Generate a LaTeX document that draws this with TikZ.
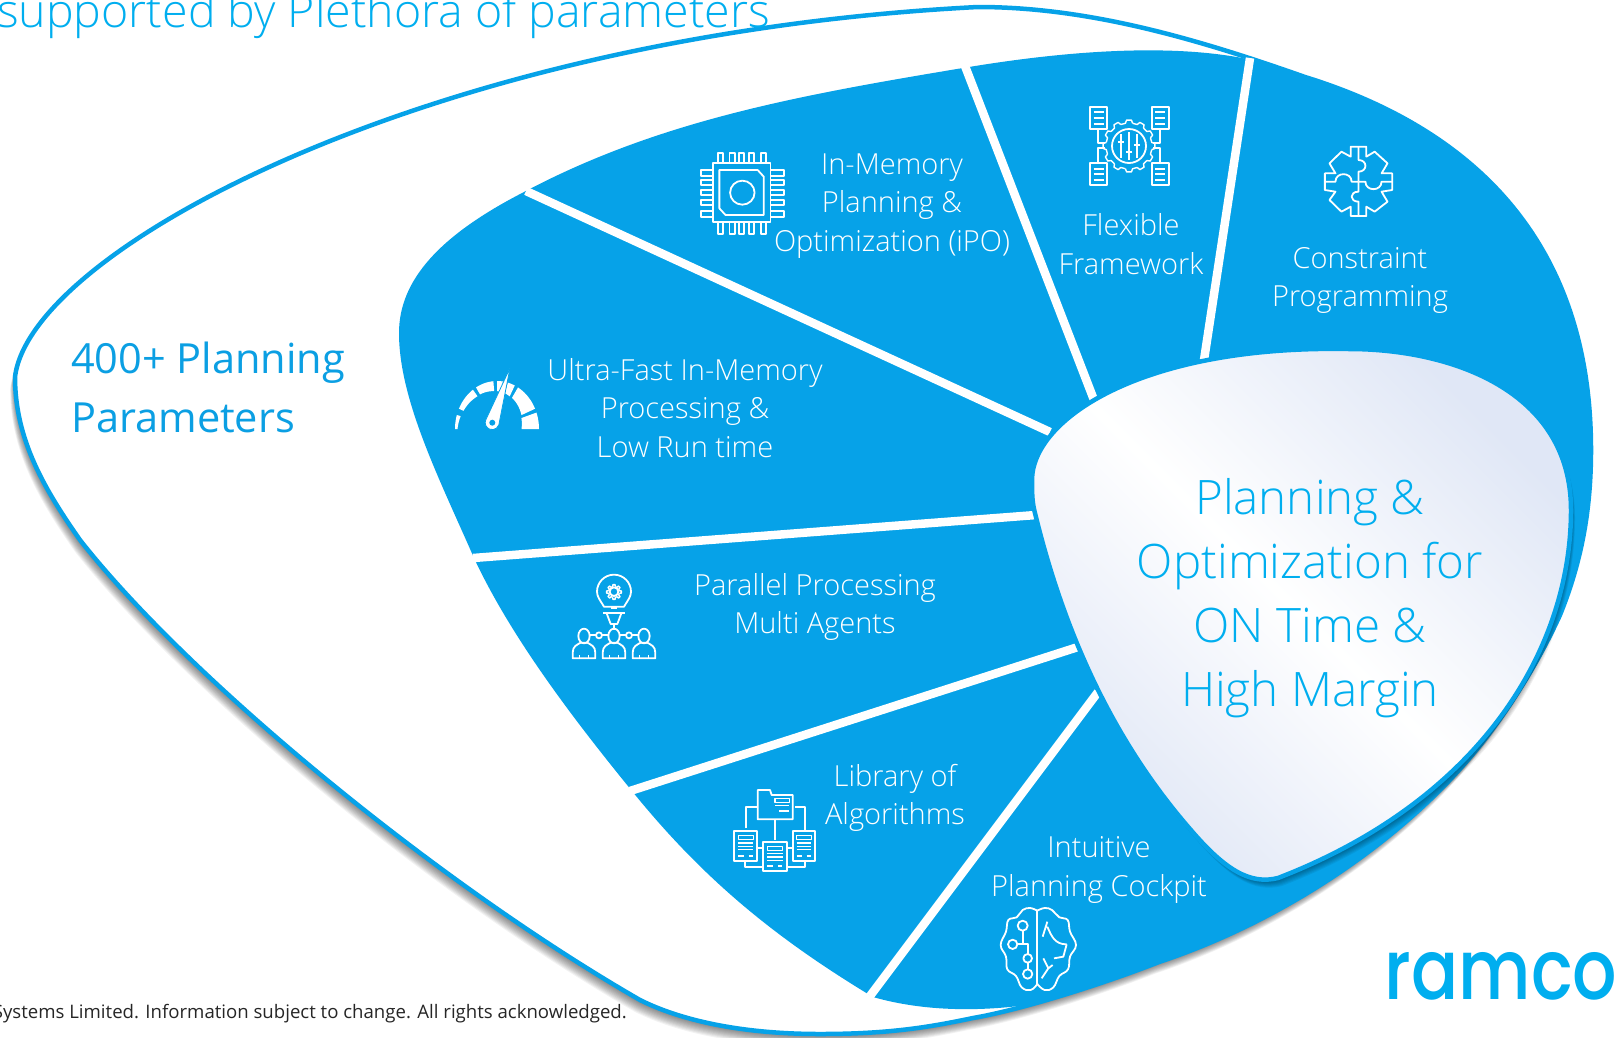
\documentclass[tikz,border=0pt]{standalone}
\usepackage{fontspec}
\setmainfont{Open Sans}
\newfontfamily\lightf{Open Sans Light}
\newfontfamily\logof{Poppins Medium}
\usetikzlibrary{calc}
\definecolor{fanblue}{HTML}{06A2E8}
\definecolor{skyblue}{HTML}{00AEEF}
\definecolor{headblue}{HTML}{0B9FE3}
\definecolor{lenstint}{HTML}{E0E7F6}
\tikzset{
  iconline/.style={draw=white,line width=1.8pt,fill=none,line join=round},
  iconthin/.style={draw=white,line width=1.4pt,fill=none,line join=round},
  sepline/.style={draw=white,line width=8.5pt},
  fanlabel/.style={text=white,align=center,font=\lightf\fontsize{29}{38.3}\selectfont,inner sep=0pt},
  lenslabel/.style={text=skyblue,align=center,font=\lightf\fontsize{47.5}{64}\selectfont,inner sep=0pt},
  headlabel/.style={text=headblue,align=left,font=\fontsize{41.5}{58}\selectfont,inner sep=0pt,anchor=base west},
}
\def\rightedge{.. controls (1460,125) and (1591,230) .. (1591,450)
  .. controls (1591,520) and (1578,570) .. (1560,615)
  .. controls (1530,680) and (1490,740) .. (1440,790)
  .. controls (1370,860) and (1270,925) .. (1159,962)}
\def\outerp{(15,377) .. controls (30,250) and (430,35) .. (978,7)
  .. controls (1090,7) and (1200,40) .. (1305,77)
  \rightedge
  .. controls (1100,985) and (1020,1010) .. (973,1018)
  .. controls (930,1027) and (890,1034) .. (820,1034)
  .. controls (740,1034) and (680,1020) .. (640,1000)
  .. controls (440,885) and (190,680) .. (80,540)
  .. controls (45,490) and (15,440) .. (15,377) -- cycle}
\def\fanp{(1252,60) .. controls (1270,65) and (1290,72) .. (1305,77)
  \rightedge
  .. controls (1120,977) and (1080,992) .. (1040,1003)
  .. controls (985,1012) and (925,1012) .. (873,997)
  .. controls (770,935) and (700,875) .. (632,791)
  .. controls (570,715) and (510,635) .. (474,558)
  .. controls (440,480) and (399,400) .. (399,333)
  .. controls (399,280) and (440,235) .. (524,192)
  .. controls (660,120) and (800,95) .. (969,67)
  .. controls (1060,52) and (1170,42) .. (1252,60) -- cycle}
\def\lensp{(1032,480) .. controls (1032,420) and (1140,345) .. (1349,349)
  .. controls (1450,349) and (1571,390) .. (1571,510)
  .. controls (1571,650) and (1480,800) .. (1278,878)
  .. controls (1250,885) and (1225,870) .. (1190,829)
  .. controls (1130,760) and (1070,660) .. (1034,509)
  .. controls (1032,500) and (1032,490) .. (1032,480) -- cycle}
\newcommand{\rgear}[5]{%
  \begin{scope}[shift={(#1,#2)}]
  \pgfmathsetmacro\st{360/#5}
  \foreach \i in {1,...,#5}{
    \pgfmathsetmacro\a{\i*\st}
    \draw[iconthin] ({\a-.30*\st}:#3pt) -- ({\a-.18*\st}:#4pt) -- ({\a+.18*\st}:#4pt) -- ({\a+.30*\st}:#3pt) -- ({\a+.70*\st}:#3pt);
  }
  \end{scope}}
\newcommand{\docbox}[4]{%
  \draw[iconline] (#1,#2) rectangle (#3,#4);
  \draw[iconthin] ({#1+12},{#2+14}) rectangle ({#3-12},{#2+26});
  \foreach \dy in {36,46,56}{\draw[iconthin] ({#1+12},{#2+\dy}) -- ({#3-12},{#2+\dy});}
  \draw[iconthin] ({#1+12},{#4-14}) -- ({#1+28},{#4-14}) ({#3-26},{#4-14}) -- ({#3-14},{#4-14});}
\newcommand{\panelbox}[4]{%
  \draw[iconline] (#1,#2) rectangle (#3,#4);
  \foreach \f in {.25,.5,.75}{\draw[iconline] ({#1+.22*(#3-#1)},{#2+\f*(#4-#2)}) -- ({#3-.22*(#3-#1)},{#2+\f*(#4-#2)});}}
\begin{document}
\begin{tikzpicture}[x=1pt,y=-1pt]
\useasboundingbox (0,0) rectangle (1622,1037);
\fill[white] (0,0) rectangle (1622,1037);
% shadow of the outer shape
\foreach \k in {1,...,12}{\fill[black,opacity=.05,shift={({-.4*\k},\k)}] \outerp;}
% outer shape
\draw[fanblue,line width=4.5pt,fill=white] \outerp;
% fan
\fill[fanblue] \fanp;
% separators
\coordinate (s1a) at (1250,58); \coordinate (s1b) at (1204,360);
\coordinate (s2a) at (965,66);  \coordinate (s2b) at (1094,400);
\coordinate (s3a) at (526,191); \coordinate (s3b) at (1050,432);
\coordinate (s4a) at (473,558); \coordinate (s4b) at (1036,515);
\coordinate (s5a) at (630,791); \coordinate (s5b) at (1078,647);
\coordinate (s6a) at (870,996); \coordinate (s6b) at (1098,692);
\foreach \sa/\sb in {s1a/s1b,s2a/s2b,s3a/s3b,s4a/s4b,s5a/s5b,s6a/s6b}{\draw[sepline] (\sa) -- (\sb);}
% lens
\foreach \k in {1,...,8}{\fill[black,opacity=.06,shift={({.5*\k},\k)}] \lensp;}
\shade[top color=lenstint,bottom color=lenstint,middle color=white,shading angle=-45] \lensp;
\draw[fanblue,line width=4.5pt] \lensp;
% texts
\node[anchor=base west,inner sep=0pt,text=skyblue,font=\lightf\fontsize{46.5}{50}\selectfont] (title) at (-3,27) {supported by Plethora of parameters};
\node[headlabel] (h1) at (71,373) {400+ Planning};
\node[headlabel] (h2) at (71,432) {Parameters};
\node[anchor=base east,inner sep=0pt,text=black!85,font=\fontsize{18.6}{22}\selectfont] (foot) at (627,1018) {Systems Limited. Information subject to change. All rights acknowledged.};
\node[lenslabel] (lens) at (1310,598.5) {Planning \&\\Optimization for\\ON Time \&\\High Margin};
\node[fanlabel] (t1) at (892,206) {In-Memory\\Planning \&\\Optimization (iPO)};
\node[fanlabel] (t2) at (1131,244) {Flexible\\Framework};
\node[fanlabel] (t3) at (1360,280.5) {Constraint\\Programming};
\node[fanlabel] (t4) at (685,408) {Ultra-Fast In-Memory\\Processing \&\\Low Run time};
\node[fanlabel] (t5) at (815,607) {Parallel Processing\\Multi Agents};
\node[fanlabel] (t6) at (895,798) {Library of\\Algorithms};
\node[fanlabel] (t7) at (1099,870) {Intuitive\\Planning Cockpit};
\node[inner sep=0pt,anchor=base,text=skyblue,font=\logof\fontsize{84}{90}\selectfont,xscale=.83] (logo) at (1501,999) {ramco};
% chip icon
\begin{scope}[xscale=1/1.96,yscale=1/3]
  \draw[iconline] (1398,490) rectangle (1510,665);
  \draw[iconline] (1410,510) -- (1485,510) -- (1497,530) -- (1497,645) -- (1422,645) -- (1410,625) -- cycle;
  \draw[iconline] (1455,578) ellipse [x radius=24pt,y radius=36pt];
  \foreach \px in {1412,1435,1454,1473,1496}{
    \draw[iconline] ({\px-5},490) -- ({\px-5},458) -- ({\px+5},458) -- ({\px+5},490);
    \draw[iconline] ({\px-5},665) -- ({\px-5},702) -- ({\px+5},702) -- ({\px+5},665);}
  \foreach \py in {519,548,578,607,642}{
    \draw[iconline] (1398,{\py-8}) -- (1374,{\py-8}) -- (1374,{\py+8}) -- (1398,{\py+8});
    \draw[iconline] (1510,{\py-8}) -- (1536,{\py-8}) -- (1536,{\py+8}) -- (1510,{\py+8});}
\end{scope}
% framework icon
\begin{scope}[shift={(900,0)},xscale=1/2.17,yscale=1/3]
  \panelbox{412}{320}{450}{388}
  \panelbox{546}{320}{583}{388}
  \panelbox{412}{490}{450}{556}
  \panelbox{546}{490}{583}{556}
  \draw[iconline] (430,388) -- (430,430) -- (445,430);
  \draw[iconline] (565,388) -- (565,430) -- (550,430);
  \draw[iconline] (430,490) -- (430,445) -- (445,445);
  \draw[iconline] (565,490) -- (565,445) -- (550,445);
\end{scope}
\rgear{1129}{146}{23}{26}{12}
\draw[iconline] (1129,146) circle[radius=17pt];
\draw[iconline] (1121,134) -- (1121,158) (1129,132) -- (1129,160) (1137,134) -- (1137,158);
\draw[iconline] (1118,142) -- (1124,142) (1126,152) -- (1132,152) (1134,145) -- (1140,145);
% puzzle icon
\begin{scope}[shift={(900,0)},xscale=1/2.17,yscale=1/3]
  \draw[iconline] (978,440) -- (1012,440) -- (1012,470) -- (1030,455) -- (1058,490) -- (1045,520) -- (1068,520) -- (1068,570) -- (1045,575) -- (1058,605) -- (1030,635) -- (1012,620) -- (1012,648) -- (978,648) -- (978,620) -- (958,635) -- (932,600) -- (945,575) -- (922,570) -- (922,520) -- (945,520) -- (932,490) -- (958,455) -- (978,470) -- cycle;
  \draw[iconline] (995,440) -- (995,480) .. controls (1015,480) and (1015,515) .. (995,515) -- (995,545);
  \draw[iconline] (922,545) -- (945,545) .. controls (945,515) and (980,515) .. (980,545) -- (995,545);
  \draw[iconline] (995,545) -- (1010,545) .. controls (1010,575) and (1045,575) .. (1045,545) -- (1068,545);
  \draw[iconline] (995,545) -- (995,575) .. controls (975,575) and (975,605) .. (995,605) -- (995,648);
\end{scope}
% gauge icon
\foreach \aa/\ab/\tha/\thb in {180/163/2.5/4,155/125/5/8,120/95/8/10,90/82/10/11,75/65/11/12,60/25/12/15,20/0/16/17.5}{
  \fill[white] plot[domain=\aa:\ab,samples=8] ({497+42*cos(\x)},{429-48*sin(\x)}) -- plot[domain=\ab:\aa,samples=8] ({497+(42-(\thb+(\tha-\thb)*(\x-\ab)/(\aa-\ab)))*cos(\x)},{429-(48-(\thb+(\tha-\thb)*(\x-\ab)/(\aa-\ab)))*sin(\x)}) -- cycle;}
\draw[fanblue,line width=.8pt,miter limit=20,fill=white] (510,368) -- (485.7,420) arc[start angle=158,end angle=342,radius=7pt] -- cycle;
\fill[fanblue] (492.3,422.7) circle[radius=3pt];
% bulb and people icon
\begin{scope}[shift={(420,340)},scale=1/3]
  \draw[iconline] (552,800) .. controls (540,780) and (531,770) .. (531,755) arc[start angle=180,end angle=0,radius=51pt] .. controls (633,770) and (624,780) .. (612,800) -- cycle;
  \draw[iconline] (550,820) -- (614,820);
  \draw[iconline] (560,820) -- (572,852) -- (592,852) -- (604,820);
  \draw[iconline] (582,852) -- (582,870);
  \draw[iconline] (572,805) -- (592,805);
  \draw[iconline] (582,755) circle[radius=13pt];
  \foreach \hx in {492,582,672}{
    \draw[iconline] (\hx,888) ellipse[x radius=17pt,y radius=22pt];
    \draw[iconline] ({\hx-34},955) -- ({\hx-34},938) .. controls ({\hx-34},918) and ({\hx-20},914) .. ({\hx-10},908) -- ({\hx+10},908) .. controls ({\hx+20},914) and ({\hx+34},918) .. ({\hx+34},938) -- ({\hx+34},955) -- cycle;
    \draw[iconthin] ({\hx-14},955) -- ({\hx-14},945) ({\hx+14},955) -- ({\hx+14},945);}
  \draw[iconline] (509,886) -- (528,886) (546,886) -- (565,886) (599,886) -- (618,886) (636,886) -- (655,886);
  \draw[iconline] (537,886) circle[radius=9pt];
  \draw[iconline] (627,886) circle[radius=9pt];
\end{scope}
\rgear{614}{592}{5.5}{7.5}{8}
% library icon
\begin{scope}[shift={(700,760)},scale=1/3]
  \draw[iconline] (173,178) -- (173,90) -- (210,90) -- (215,105) -- (278,105) -- (278,178) -- cycle;
  \draw[iconthin] (225,115) rectangle (268,128);
  \draw[iconthin] (225,137) -- (268,137) (238,153) -- (268,153);
  \docbox{103}{213}{172}{302}
  \docbox{278}{213}{346}{302}
  \docbox{190}{245}{260}{332}
  \draw[iconline] (137,205) -- (137,140) -- (172,140);
  \draw[iconline] (285,140) -- (315,140) -- (315,210);
  \draw[iconline] (225,178) -- (225,240);
  \draw[iconline] (135,302) -- (135,320) -- (190,320);
  \draw[iconline] (260,320) -- (315,320) -- (315,302);
  \draw[iconline] (172,265) -- (190,265) (260,265) -- (278,265);
\end{scope}
% brain icon
\begin{scope}[shift={(700,760)},scale=1/3]
  \draw[iconline] plot[smooth,tension=.7] coordinates {(1012,452)(990,444)(968,450)(950,472)(925,480)(918,515)(902,555)(918,590)(922,628)(948,648)(965,682)(992,690)(1012,672)};
  \draw[iconline] plot[smooth,tension=.7] coordinates {(1012,452)(1034,444)(1056,450)(1078,472)(1103,480)(1110,515)(1128,555)(1110,590)(1104,628)(1078,648)(1060,682)(1034,690)(1012,672)};
  \draw[iconline] (1012,452) -- (1012,672);
  \draw[iconline] (968,497) circle[radius=15pt] (938,553) circle[radius=14pt] (983,595) circle[radius=13pt] (983,642) circle[radius=14pt];
  \draw[iconline] (968,512) -- (968,553) (952,553) -- (983,553) -- (983,582) (983,608) -- (983,628);
  \draw[iconline] (1042,485) -- (1028,530) (1042,500) .. controls (1055,530) and (1065,553) .. (1100,553);
  \draw[iconline] (1030,595) -- (1045,625) -- (1025,655) (1045,625) -- (1058,615);
  \draw[iconline] (1100,553) -- (1090,590) -- (1062,595);
\end{scope}
\end{tikzpicture}
\end{document}
